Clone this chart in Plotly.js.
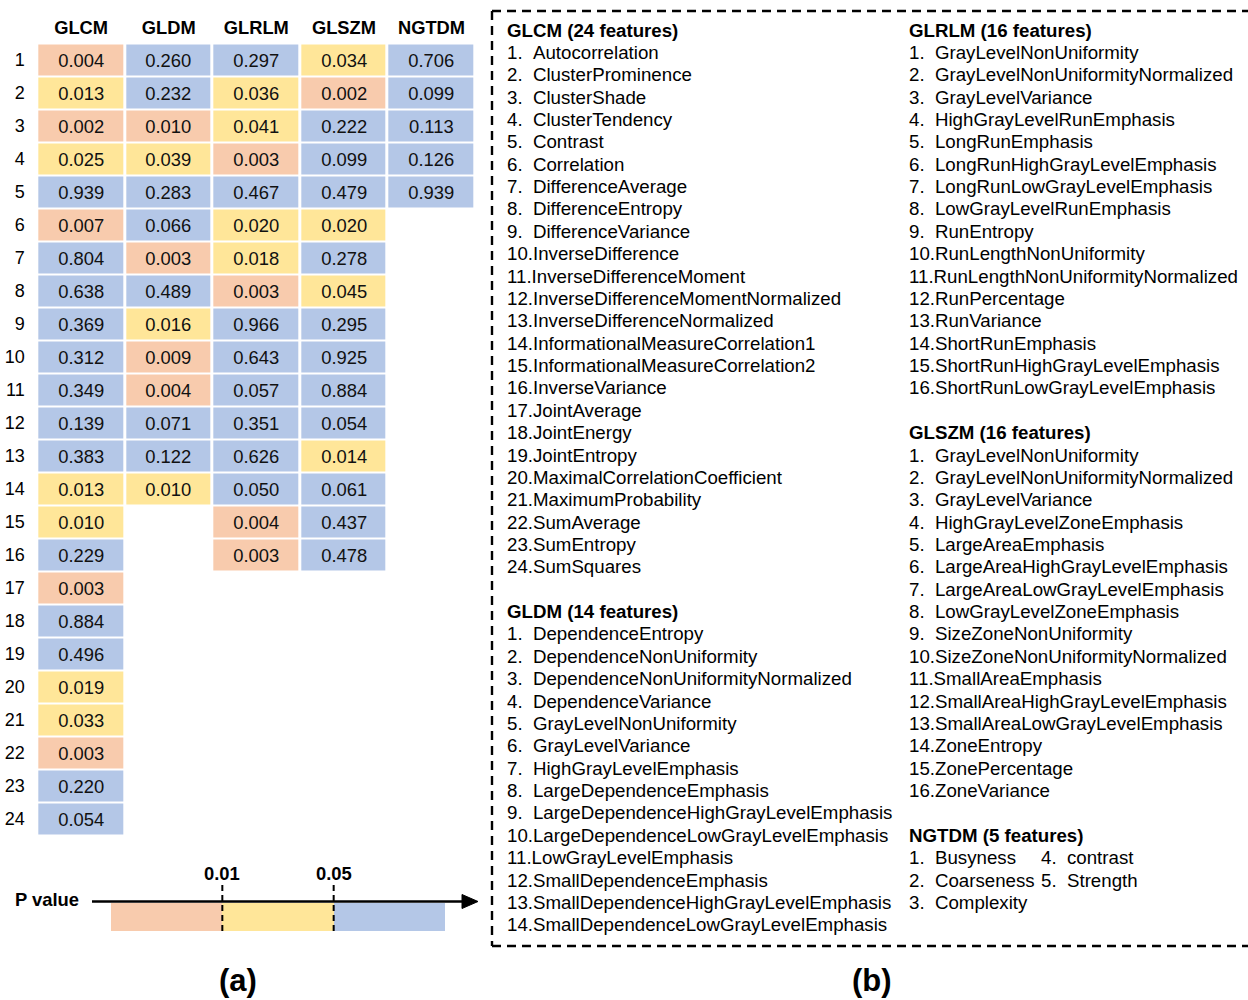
<!DOCTYPE html>
<html><head><meta charset="utf-8">
<script src="https://cdn.plot.ly/plotly-3.0.1.min.js"></script>
<style>html,body{margin:0;padding:0;background:#fff;} #chart{width:1248px;height:1000px;}</style>
</head><body><div id="chart"></div>
<script>
// ---------- DATA ----------
const groups = ['GLCM', 'GLDM', 'GLRLM', 'GLSZM', 'NGTDM'];
// P values per feature (row index = feature number)
const glcmP  = [0.004,0.013,0.002,0.025,0.939,0.007,0.804,0.638,0.369,0.312,0.349,0.139,0.383,0.013,0.010,0.229,0.003,0.884,0.496,0.019,0.033,0.003,0.220,0.054];
const gldmP  = [0.260,0.232,0.010,0.039,0.283,0.066,0.003,0.489,0.016,0.009,0.004,0.071,0.122,0.010];
const glrlmP = [0.297,0.036,0.041,0.003,0.467,0.020,0.018,0.003,0.966,0.643,0.057,0.351,0.626,0.050,0.004,0.003];
const glszmP = [0.034,0.002,0.222,0.099,0.479,0.020,0.278,0.045,0.295,0.925,0.884,0.054,0.014,0.061,0.437,0.478];
const ngtdmP = [0.706,0.099,0.113,0.126,0.939];
// significance class: 0 = P<0.01, 1 = 0.01-0.05, 2 = >0.05
const glcmLevel  = [0,1,0,1,2,0,2,2,2,2,2,2,2,1,1,2,0,2,2,1,1,0,2,2];
const gldmLevel  = [2,2,0,1,2,2,0,2,1,0,0,2,2,1];
const glrlmLevel = [2,1,1,0,2,1,1,0,2,2,2,2,2,2,0,0];
const glszmLevel = [1,0,2,2,2,1,2,1,2,2,2,2,1,2,2,2];
const ngtdmLevel = [2,2,2,2,2];
const legendTicks = ['0.01', '0.05'];

const glcmFeatures = ['Autocorrelation','ClusterProminence','ClusterShade','ClusterTendency','Contrast','Correlation','DifferenceAverage','DifferenceEntropy','DifferenceVariance','InverseDifference','InverseDifferenceMoment','InverseDifferenceMomentNormalized','InverseDifferenceNormalized','InformationalMeasureCorrelation1','InformationalMeasureCorrelation2','InverseVariance','JointAverage','JointEnergy','JointEntropy','MaximalCorrelationCoefficient','MaximumProbability','SumAverage','SumEntropy','SumSquares'];
const gldmFeatures = ['DependenceEntropy','DependenceNonUniformity','DependenceNonUniformityNormalized','DependenceVariance','GrayLevelNonUniformity','GrayLevelVariance','HighGrayLevelEmphasis','LargeDependenceEmphasis','LargeDependenceHighGrayLevelEmphasis','LargeDependenceLowGrayLevelEmphasis','LowGrayLevelEmphasis','SmallDependenceEmphasis','SmallDependenceHighGrayLevelEmphasis','SmallDependenceLowGrayLevelEmphasis'];
const glrlmFeatures = ['GrayLevelNonUniformity','GrayLevelNonUniformityNormalized','GrayLevelVariance','HighGrayLevelRunEmphasis','LongRunEmphasis','LongRunHighGrayLevelEmphasis','LongRunLowGrayLevelEmphasis','LowGrayLevelRunEmphasis','RunEntropy','RunLengthNonUniformity','RunLengthNonUniformityNormalized','RunPercentage','RunVariance','ShortRunEmphasis','ShortRunHighGrayLevelEmphasis','ShortRunLowGrayLevelEmphasis'];
const glszmFeatures = ['GrayLevelNonUniformity','GrayLevelNonUniformityNormalized','GrayLevelVariance','HighGrayLevelZoneEmphasis','LargeAreaEmphasis','LargeAreaHighGrayLevelEmphasis','LargeAreaLowGrayLevelEmphasis','LowGrayLevelZoneEmphasis','SizeZoneNonUniformity','SizeZoneNonUniformityNormalized','SmallAreaEmphasis','SmallAreaHighGrayLevelEmphasis','SmallAreaLowGrayLevelEmphasis','ZoneEntropy','ZonePercentage','ZoneVariance'];
const ngtdmFeatures = ['Busyness','Coarseness','Complexity','contrast','Strength'];

// ---------- BUILD ----------
const W = 1248, H = 1000;
const SALMON = '#F8CBAD', YELLOW = '#FFE699', BLUE = '#B4C7E7';
const FONT = 'Arial, "Liberation Sans", sans-serif';
const colorscale = [[0, SALMON], [0.3333, SALMON], [0.3334, YELLOW], [0.6666, YELLOW], [0.6667, BLUE], [1, BLUE]];

const pCols = [glcmP, gldmP, glrlmP, glszmP, ngtdmP];
const lCols = [glcmLevel, gldmLevel, glrlmLevel, glszmLevel, ngtdmLevel];
const nRows = Math.max(...pCols.map(c => c.length));
const rows = Array.from({length: nRows}, (_, i) => i + 1);
const z = [], txt = [];
for (let r = 0; r < nRows; r++) {
  const zr = [], tr = [];
  for (let c = 0; c < groups.length; c++) {
    if (r < pCols[c].length) { zr.push(lCols[c][r]); tr.push(pCols[c][r].toFixed(3)); }
    else { zr.push(null); tr.push(''); }
  }
  z.push(zr); txt.push(tr);
}

const px = v => v / W, py = v => 1 - v / H;

const traces = [
  {
    type: 'heatmap', x: groups, y: rows, z: z, text: txt,
    texttemplate: '%{text}', textfont: {family: FONT, size: 18.4, color: '#111'},
    colorscale: colorscale, zmin: 0, zmax: 2, showscale: false,
    xgap: 3, ygap: 2, hoverinfo: 'skip', xaxis: 'x', yaxis: 'y'
  },
  {
    type: 'heatmap', x: [0, 1, 2], y: [0], z: [[0, 1, 2]],
    colorscale: colorscale, zmin: 0, zmax: 2, showscale: false,
    hoverinfo: 'skip', xaxis: 'x2', yaxis: 'y2'
  }
];

const annotations = [];
function addText(x, y, text, size, bold, anchor) {
  annotations.push({
    xref: 'paper', yref: 'paper', x: px(x), y: py(y), text: text,
    xanchor: anchor || 'left', yanchor: 'middle', showarrow: false,
    font: {family: FONT, size: size, color: '#000', weight: bold ? 'bold' : 'normal'}
  });
}
const SP = '\u00a0\u00a0';
function item(i, name) { return i < 10 ? (i + '.' + SP + name) : (i + '.' + name); }

const FS = 18.7;
const LY0 = 30, LDY = 22.37;
const lineY = k => LY0 + k * LDY;
const LX = 504.5, RX = 906.5, NX2 = 1039;
// left column
addText(LX, lineY(0), 'GLCM (24 features)', FS, true);
glcmFeatures.forEach((f, i) => addText(LX, lineY(1 + i), item(i + 1, f), FS, false));
addText(LX, lineY(26), 'GLDM (14 features)', FS, true);
gldmFeatures.forEach((f, i) => addText(LX, lineY(27 + i), item(i + 1, f), FS, false));
// right column
addText(RX, lineY(0), 'GLRLM (16 features)', FS, true);
glrlmFeatures.forEach((f, i) => addText(RX, lineY(1 + i), item(i + 1, f), FS, false));
addText(RX, lineY(18), 'GLSZM (16 features)', FS, true);
glszmFeatures.forEach((f, i) => addText(RX, lineY(19 + i), item(i + 1, f), FS, false));
addText(RX, lineY(36), 'NGTDM (5 features)', FS, true);
ngtdmFeatures.forEach((f, i) => {
  const col = i < 3 ? RX : NX2;
  const row = i < 3 ? i : i - 3;
  addText(col, lineY(37 + row), item(i + 1, f), FS, false);
});

// legend labels
addText(13, 899, 'P value', 18.4, true);
legendTicks.forEach((t, i) => annotations.push({
  xref: 'x2', yref: 'paper', x: i + 0.5, y: py(873), text: t, showarrow: false,
  xanchor: 'center', yanchor: 'middle',
  font: {family: FONT, size: 18.4, color: '#000', weight: 'bold'}
}));
addText(238, 980, '(a)', 31, true, 'center');
addText(872, 980, '(b)', 31, true, 'center');

const shapes = [];
// legend dividers
[0.5, 1.5].forEach(v => shapes.push({
  type: 'line', xref: 'x2', yref: 'paper', x0: v, x1: v, y0: py(931), y1: py(883),
  line: {color: '#000', width: 2, dash: '6px,4px'}
}));
// arrow
shapes.push({type: 'line', xref: 'paper', yref: 'paper', x0: px(92), x1: px(466), y0: py(901.5), y1: py(901.5), line: {color: '#000', width: 2.5}});
shapes.push({type: 'path', xref: 'paper', yref: 'paper',
  path: `M ${px(462)} ${py(894.5)} L ${px(478)} ${py(901.5)} L ${px(462)} ${py(908.5)} Z`,
  fillcolor: '#000', line: {color: '#000', width: 1}});
// dashed frame of panel (b)
const dashLine = {color: '#000', width: 2.4, dash: '9px,6px'};
shapes.push({type: 'line', xref: 'paper', yref: 'paper', x0: px(492), x1: px(1250), y0: py(11), y1: py(11), line: dashLine});
shapes.push({type: 'line', xref: 'paper', yref: 'paper', x0: px(492), x1: px(492), y0: py(11), y1: py(946), line: dashLine});
shapes.push({type: 'line', xref: 'paper', yref: 'paper', x0: px(492), x1: px(1250), y0: py(946), y1: py(946), line: dashLine});

const layout = {
  width: W, height: H, margin: {l: 0, r: 0, t: 0, b: 0},
  paper_bgcolor: '#fff', plot_bgcolor: 'rgba(0,0,0,0)', showlegend: false,
  xaxis: {
    domain: [px(37.3), px(475.3)], side: 'top', type: 'category',
    showgrid: false, zeroline: false, showline: false,
    ticks: 'outside', ticklen: 1, tickcolor: 'rgba(0,0,0,0)',
    tickfont: {family: FONT, size: 18.3, color: '#000', weight: 'bold'}, fixedrange: true
  },
  yaxis: {
    domain: [py(835.5), py(43.5)], range: [nRows + 0.5, 0.5], tickmode: 'linear', tick0: 1, dtick: 1,
    showgrid: false, zeroline: false, showline: false,
    ticks: 'outside', ticklen: 8, tickcolor: 'rgba(0,0,0,0)',
    tickfont: {family: FONT, size: 18, color: '#000'}, fixedrange: true
  },
  xaxis2: {domain: [px(111), px(445)], range: [-0.5, 2.5], anchor: 'y2', visible: false, fixedrange: true},
  yaxis2: {domain: [py(931), py(903)], range: [-0.5, 0.5], anchor: 'x2', visible: false, fixedrange: true},
  annotations: annotations, shapes: shapes
};

Plotly.newPlot('chart', traces, layout, {displayModeBar: false, staticPlot: true});
</script></body></html>
